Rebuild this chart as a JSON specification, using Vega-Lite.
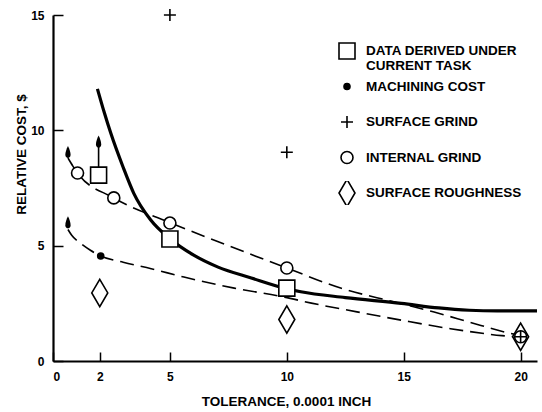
{
  "$schema": "https://vega.github.io/schema/vega-lite/v6.json",
  "width": 484,
  "height": 346,
  "autosize": {"type": "none"},
  "padding": {"left": 53, "top": 15, "right": 5, "bottom": 51},
  "background": "white",
  "config": {
    "view": {"stroke": null},
    "font": "Liberation Sans",
    "axis": {
      "grid": false,
      "domainColor": "black",
      "domainWidth": 2.2,
      "tickColor": "black",
      "tickWidth": 1.5,
      "labelFont": "Liberation Sans",
      "labelFontWeight": "bold",
      "labelFontSize": 12,
      "labelColor": "black",
      "titleFont": "Liberation Sans",
      "titleFontWeight": "bold",
      "titleFontSize": 13.5,
      "titleColor": "black"
    }
  },
  "layer": [
    {
      "data": {"values": [
        {"s": "internal", "x": 0.64, "y": 8.8},
        {"s": "internal", "x": 0.85, "y": 8.45},
        {"s": "internal", "x": 1.05, "y": 8.15},
        {"s": "internal", "x": 2.6, "y": 7.07},
        {"s": "internal", "x": 5, "y": 6.0},
        {"s": "internal", "x": 7.5, "y": 5.0},
        {"s": "internal", "x": 10, "y": 4.03},
        {"s": "internal", "x": 12.3, "y": 3.16},
        {"s": "internal", "x": 14.6, "y": 2.56},
        {"s": "internal", "x": 16.3, "y": 2.12},
        {"s": "internal", "x": 17.8, "y": 1.69},
        {"s": "internal", "x": 19.3, "y": 1.26},
        {"s": "internal", "x": 20, "y": 1.1},
        {"s": "machining", "x": 0.64, "y": 5.7},
        {"s": "machining", "x": 0.8, "y": 5.45},
        {"s": "machining", "x": 1.18, "y": 5.1},
        {"s": "machining", "x": 1.6, "y": 4.8},
        {"s": "machining", "x": 2.04, "y": 4.55},
        {"s": "machining", "x": 3, "y": 4.28},
        {"s": "machining", "x": 4.2, "y": 4.0},
        {"s": "machining", "x": 5.6, "y": 3.64},
        {"s": "machining", "x": 7.75, "y": 3.16},
        {"s": "machining", "x": 9.9, "y": 2.77},
        {"s": "machining", "x": 11.05, "y": 2.51},
        {"s": "machining", "x": 13, "y": 2.13},
        {"s": "machining", "x": 15, "y": 1.75},
        {"s": "machining", "x": 17, "y": 1.4},
        {"s": "machining", "x": 19.2, "y": 1.1},
        {"s": "machining", "x": 20, "y": 1.03}
      ]},
      "mark": {"type": "line", "color": "black", "strokeWidth": 1.6, "strokeDash": [14, 7], "interpolate": "monotone"},
      "encoding": {
        "x": {"field": "x", "type": "quantitative", "scale": {"domain": [0, 20.7], "nice": false, "zero": false},
          "axis": {"values": [0, 2, 5, 10, 15, 20], "tickSize": -9, "labelPadding": 19, "title": "TOLERANCE, 0.0001 INCH", "titlePadding": 12, "titleX": 233}},
        "y": {"field": "y", "type": "quantitative", "scale": {"domain": [0, 15], "nice": false},
          "axis": {"values": [0, 5, 10, 15], "tickSize": -10, "labelPadding": 19, "title": "RELATIVE COST, $", "titlePadding": 2, "titleY": 139}},
        "detail": {"field": "s"}
      }
    },
    {
      "data": {"values": [
        {"x": 1.9, "y": 11.8}, {"x": 2.2, "y": 10.75}, {"x": 2.47, "y": 9.88}, {"x": 3.0, "y": 8.4},
        {"x": 3.45, "y": 7.28}, {"x": 4.18, "y": 6.11}, {"x": 5, "y": 5.3}, {"x": 6, "y": 4.6},
        {"x": 7.06, "y": 4.07}, {"x": 8.48, "y": 3.6}, {"x": 9.9, "y": 3.16}, {"x": 10.6, "y": 3.0},
        {"x": 12.5, "y": 2.75}, {"x": 14.9, "y": 2.5}, {"x": 16.5, "y": 2.3}, {"x": 17.8, "y": 2.2},
        {"x": 19, "y": 2.17}, {"x": 20.7, "y": 2.17}
      ]},
      "mark": {"type": "line", "color": "black", "strokeWidth": 3.2, "interpolate": "monotone"},
      "encoding": {
        "x": {"field": "x", "type": "quantitative"},
        "y": {"field": "y", "type": "quantitative"}
      }
    },
    {
      "data": {"values": [{"x": 1.95, "y": 8.4, "y2": 9.4}]},
      "mark": {"type": "rule", "color": "black", "strokeWidth": 1.6},
      "encoding": {
        "x": {"field": "x", "type": "quantitative"},
        "y": {"field": "y", "type": "quantitative"},
        "y2": {"field": "y2"}
      }
    },
    {
      "data": {"values": [{"x": 0.64, "y": 9.05}, {"x": 1.95, "y": 9.5}, {"x": 0.64, "y": 6.0}]},
      "mark": {"type": "point", "filled": true, "color": "black", "opacity": 1, "size": 110,
        "shape": "M0,-1.2C0.3,-0.6 0.5,0 0.5,0.5C0.5,0.9 0.25,1.1 0,1.1C-0.25,1.1 -0.5,0.9 -0.5,0.5C-0.5,0 -0.3,-0.6 0,-1.2Z"},
      "encoding": {
        "x": {"field": "x", "type": "quantitative"},
        "y": {"field": "y", "type": "quantitative"}
      }
    },
    {
      "data": {"values": [
        {"series": "SURFACE ROUGHNESS", "x": 2, "y": 2.95},
        {"series": "SURFACE ROUGHNESS", "x": 10, "y": 1.8},
        {"series": "SURFACE ROUGHNESS", "x": 20, "y": 1.05},
        {"series": "DATA DERIVED UNDER CURRENT TASK", "x": 1.95, "y": 8.06},
        {"series": "DATA DERIVED UNDER CURRENT TASK", "x": 5, "y": 5.29},
        {"series": "DATA DERIVED UNDER CURRENT TASK", "x": 10, "y": 3.16},
        {"series": "INTERNAL GRIND", "x": 1.05, "y": 8.15},
        {"series": "INTERNAL GRIND", "x": 2.6, "y": 7.07},
        {"series": "INTERNAL GRIND", "x": 5, "y": 5.98},
        {"series": "INTERNAL GRIND", "x": 10, "y": 4.03},
        {"series": "INTERNAL GRIND", "x": 20, "y": 1.05},
        {"series": "MACHINING COST", "x": 2.04, "y": 4.55},
        {"series": "SURFACE GRIND", "x": 5, "y": 15},
        {"series": "SURFACE GRIND", "x": 10, "y": 9.05},
        {"series": "SURFACE GRIND", "x": 20, "y": 1.05}
      ]},
      "mark": {"type": "point", "stroke": "black", "strokeWidth": 1.6, "opacity": 1, "fillOpacity": 1},
      "encoding": {
        "x": {"field": "x", "type": "quantitative"},
        "y": {"field": "y", "type": "quantitative"},
        "shape": {"field": "series", "type": "nominal",
          "scale": {"domain": ["DATA DERIVED UNDER CURRENT TASK", "MACHINING COST", "SURFACE GRIND", "INTERNAL GRIND", "SURFACE ROUGHNESS"],
            "range": ["square", "circle", "M-1,0L1,0M0,-1L0,1", "circle", "M0,-1.7L1,0L0,1.7L-1,0Z"]},
          "legend": {"orient": "none", "legendX": 285, "legendY": 24, "title": null, "labelFont": "Liberation Sans", "labelFontWeight": "bold", "labelFontSize": 13.5, "labelColor": "black", "labelOffset": 10, "rowPadding": 11.5, "clipHeight": 24, "labelLimit": 300, "symbolStrokeWidth": 1.6, "symbolStrokeColor": "black",
            "labelExpr": "datum.label == 'DATA DERIVED UNDER CURRENT TASK' ? 'DATA DERIVED UNDER' : datum.label"}},
        "fill": {"field": "series", "type": "nominal",
          "scale": {"domain": ["DATA DERIVED UNDER CURRENT TASK", "MACHINING COST", "SURFACE GRIND", "INTERNAL GRIND", "SURFACE ROUGHNESS"],
            "range": ["white", "black", "white", "white", "white"]}},
        "size": {"field": "series", "type": "nominal",
          "scale": {"type": "ordinal", "domain": ["DATA DERIVED UNDER CURRENT TASK", "MACHINING COST", "SURFACE GRIND", "INTERNAL GRIND", "SURFACE ROUGHNESS"],
            "range": [256, 36, 144, 144, 256]}}
      }
    },
    {
      "data": {"values": [{"t": "CURRENT TASK"}]},
      "mark": {"type": "text", "font": "Liberation Sans", "fontWeight": "bold", "fontSize": 13.5, "align": "left", "baseline": "middle", "color": "black"},
      "encoding": {
        "x": {"datum": 13.39, "type": "quantitative"},
        "y": {"datum": 12.77, "type": "quantitative"},
        "text": {"field": "t", "type": "nominal"}
      }
    },
    {
      "mark": {"type": "rule", "color": "black", "strokeWidth": 3.5},
      "encoding": {
        "x": {"datum": 11.85, "type": "quantitative"},
        "x2": {"datum": 13.3},
        "y": {"datum": 5.68, "type": "quantitative"}
      }
    },
    {
      "mark": {"type": "rule", "color": "black", "strokeWidth": 1.3},
      "encoding": {
        "x": {"datum": 14.85, "type": "quantitative"},
        "x2": {"datum": 16.3},
        "y": {"datum": 5.8, "type": "quantitative"}
      }
    },
    {
      "mark": {"type": "text", "font": "Liberation Sans", "fontWeight": "bold", "fontSize": 13, "align": "left", "baseline": "middle", "color": "black"},
      "encoding": {
        "x": {"datum": 13.34, "type": "quantitative"},
        "y": {"datum": 5.68, "type": "quantitative"},
        "text": {"value": "$ ="}
      }
    },
    {
      "mark": {"type": "text", "font": "Liberation Sans", "fontWeight": "bold", "fontSize": 13, "align": "center", "baseline": "middle", "color": "black"},
      "encoding": {
        "x": {"datum": 15.55, "type": "quantitative"},
        "y": {"datum": 6.18, "type": "quantitative"},
        "text": {"value": "0.002"}
      }
    },
    {
      "mark": {"type": "text", "font": "Liberation Sans", "fontWeight": "bold", "fontSize": 13, "align": "center", "baseline": "middle", "color": "black"},
      "encoding": {
        "x": {"datum": 15.57, "type": "quantitative"},
        "y": {"datum": 5.4, "type": "quantitative"},
        "text": {"value": "TOL"}
      }
    },
    {
      "mark": {"type": "text", "font": "Liberation Sans", "fontWeight": "bold", "fontSize": 13, "align": "left", "baseline": "middle", "color": "black"},
      "encoding": {
        "x": {"datum": 16.68, "type": "quantitative"},
        "y": {"datum": 5.68, "type": "quantitative"},
        "text": {"value": "+ 1."}
      }
    }
  ]
}
